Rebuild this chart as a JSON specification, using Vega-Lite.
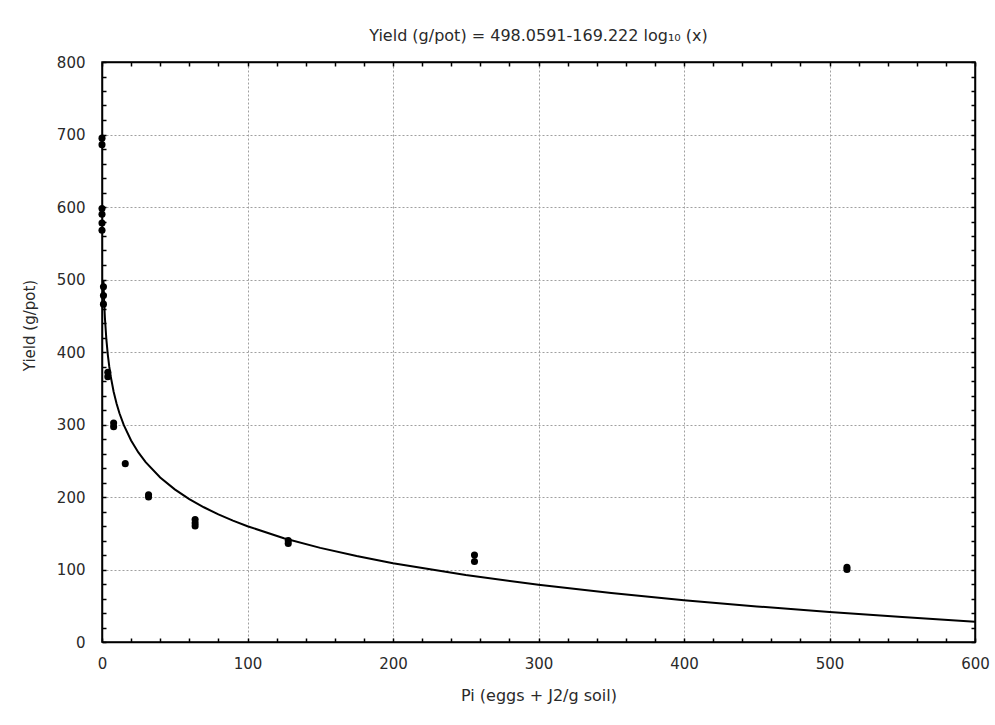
{
  "$schema": "https://vega.github.io/schema/vega-lite/v6.json",
  "width": 873,
  "height": 580,
  "autosize": "none",
  "padding": {"left": 102, "top": 62, "right": 20, "bottom": 83},
  "background": "white",
  "config": {
    "view": {"stroke": "black", "strokeWidth": 1.5},
    "font": "DejaVu Sans"
  },
  "title": {
    "text": "Yield (g/pot) = 498.0591-169.222 log₁₀ (x)",
    "fontSize": 16,
    "fontWeight": "normal",
    "font": "DejaVu Sans",
    "color": "#2a2a2a",
    "offset": 11,
    "anchor": "middle"
  },
  "datasets": {
    "obs": [
      {"pi": 0, "yield": 695}, {"pi": 0, "yield": 686}, {"pi": 0, "yield": 598}, {"pi": 0, "yield": 590}, {"pi": 0, "yield": 578}, {"pi": 0, "yield": 568},
      {"pi": 1, "yield": 490}, {"pi": 1, "yield": 478}, {"pi": 1, "yield": 466},
      {"pi": 4, "yield": 372}, {"pi": 4, "yield": 366},
      {"pi": 8, "yield": 302}, {"pi": 8, "yield": 297},
      {"pi": 16, "yield": 246},
      {"pi": 32, "yield": 203}, {"pi": 32, "yield": 200},
      {"pi": 64, "yield": 169}, {"pi": 64, "yield": 164}, {"pi": 64, "yield": 160},
      {"pi": 128, "yield": 140}, {"pi": 128, "yield": 136},
      {"pi": 256, "yield": 120}, {"pi": 256, "yield": 111},
      {"pi": 512, "yield": 103}, {"pi": 512, "yield": 100}
    ],
    "fit": [
      {"pi": 1, "yield": 498.06}, {"pi": 1.5, "yield": 468.26}, {"pi": 2, "yield": 447.12}, {"pi": 3, "yield": 417.32},
      {"pi": 4, "yield": 396.18}, {"pi": 5, "yield": 379.78}, {"pi": 6, "yield": 366.38}, {"pi": 8, "yield": 345.24},
      {"pi": 10, "yield": 328.84}, {"pi": 12, "yield": 315.44}, {"pi": 15, "yield": 299.04}, {"pi": 20, "yield": 277.9},
      {"pi": 25, "yield": 261.5}, {"pi": 30, "yield": 248.1}, {"pi": 40, "yield": 226.95}, {"pi": 50, "yield": 210.55},
      {"pi": 60, "yield": 197.15}, {"pi": 70, "yield": 185.83}, {"pi": 80, "yield": 176.01}, {"pi": 90, "yield": 167.36},
      {"pi": 100, "yield": 159.62}, {"pi": 125, "yield": 143.22}, {"pi": 150, "yield": 129.82}, {"pi": 175, "yield": 118.49},
      {"pi": 200, "yield": 108.68}, {"pi": 250, "yield": 92.28}, {"pi": 300, "yield": 78.88}, {"pi": 350, "yield": 67.54},
      {"pi": 400, "yield": 57.73}, {"pi": 450, "yield": 49.08}, {"pi": 500, "yield": 41.33}, {"pi": 550, "yield": 34.33},
      {"pi": 600, "yield": 27.93}
    ]
  },
  "layer": [
    {
      "data": {"name": "fit"},
      "mark": {"type": "line", "color": "black", "strokeWidth": 2},
      "encoding": {
        "x": {
          "field": "pi", "type": "quantitative",
          "scale": {"domain": [0, 600], "nice": false},
          "axis": {
            "orient": "top", "title": null, "labels": false, "grid": false,
            "values": [0,20,40,60,80,100,120,140,160,180,200,220,240,260,280,300,320,340,360,380,400,420,440,460,480,500,520,540,560,580,600],
            "tickSize": -4, "tickColor": "black", "tickWidth": 1.5, "domainColor": "black", "domainWidth": 1.5
          }
        },
        "y": {
          "field": "yield", "type": "quantitative",
          "scale": {"domain": [0, 800], "nice": false},
          "axis": {
            "orient": "right", "title": null, "labels": false, "grid": false,
            "values": [0,20,40,60,80,100,120,140,160,180,200,220,240,260,280,300,320,340,360,380,400,420,440,460,480,500,520,540,560,580,600,620,640,660,680,700,720,740,760,780,800],
            "tickSize": -4, "tickColor": "black", "tickWidth": 1.5, "domainColor": "black", "domainWidth": 1.5
          }
        }
      }
    },
    {
      "data": {"name": "obs"},
      "mark": {"type": "point", "filled": true, "shape": "circle", "size": 50, "color": "black", "opacity": 1},
      "encoding": {
        "x": {
          "field": "pi", "type": "quantitative",
          "scale": {"domain": [0, 600], "nice": false},
          "axis": {
            "orient": "bottom", "title": "Pi (eggs + J2/g soil)",
            "values": [0,20,40,60,80,100,120,140,160,180,200,220,240,260,280,300,320,340,360,380,400,420,440,460,480,500,520,540,560,580,600],
            "labelExpr": "datum.value % 100 === 0 ? datum.label : ''",
            "tickSize": -4, "tickColor": "black", "tickWidth": 1.5,
            "domainColor": "black", "domainWidth": 1.5,
            "labelFont": "DejaVu Sans", "labelFontSize": 15, "labelColor": "#2a2a2a", "labelPadding": 18,
            "labelFlush": false,
            "titleFont": "DejaVu Sans", "titleFontSize": 16, "titleFontWeight": "normal", "titleColor": "#2a2a2a", "titlePadding": 16,
            "grid": true, "gridColor": "#a0a0a0", "gridDash": [2, 2], "gridWidth": 1,
            "gridOpacity": {"condition": {"test": "datum.value % 100 === 0 && datum.value > 0 && datum.value < 600", "value": 1}, "value": 0}
          }
        },
        "y": {
          "field": "yield", "type": "quantitative",
          "scale": {"domain": [0, 800], "nice": false},
          "axis": {
            "orient": "left", "title": "Yield (g/pot)",
            "values": [0,20,40,60,80,100,120,140,160,180,200,220,240,260,280,300,320,340,360,380,400,420,440,460,480,500,520,540,560,580,600,620,640,660,680,700,720,740,760,780,800],
            "labelExpr": "datum.value % 100 === 0 ? datum.label : ''",
            "tickSize": -4, "tickColor": "black", "tickWidth": 1.5,
            "domainColor": "black", "domainWidth": 1.5,
            "labelFont": "DejaVu Sans", "labelFontSize": 15, "labelColor": "#2a2a2a", "labelPadding": 21,
            "labelFlush": false,
            "titleFont": "DejaVu Sans", "titleFontSize": 15, "titleFontWeight": "normal", "titleColor": "#2a2a2a",
            "titleX": -65, "titleY": 263,
            "grid": true, "gridColor": "#a0a0a0", "gridDash": [2, 2], "gridWidth": 1,
            "gridOpacity": {"condition": {"test": "datum.value % 100 === 0 && datum.value > 0 && datum.value < 800", "value": 1}, "value": 0}
          }
        }
      }
    }
  ],
  "resolve": {"axis": {"x": "independent", "y": "independent"}}
}
